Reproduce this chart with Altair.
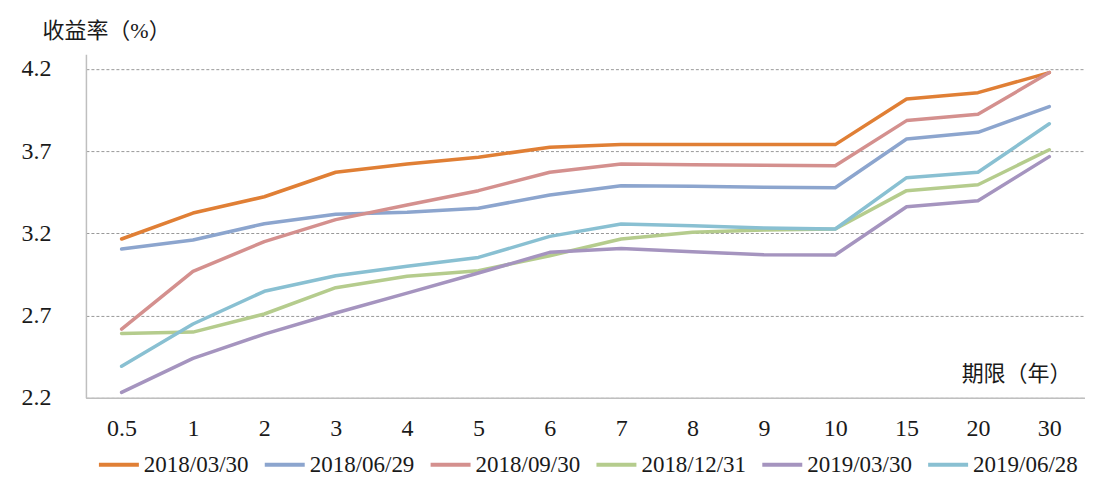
import altair as alt
import pandas as pd

terms = ["0.5", "1", "2", "3", "4", "5", "6", "7", "8", "9", "10", "15", "20", "30"]
series_names = ["2018/03/30", "2018/06/29", "2018/09/30", "2018/12/31", "2019/03/30", "2019/06/28"]
colors = ["#E07F35", "#8CA5CE", "#D4908E", "#B5CC8D", "#A594BF", "#89C0D2"]

s_2018_03_30 = [3.166, 3.324, 3.423, 3.572, 3.622, 3.663, 3.724, 3.740, 3.740, 3.740, 3.740, 4.018, 4.056, 4.178]
s_2018_06_29 = [3.105, 3.160, 3.259, 3.316, 3.328, 3.353, 3.434, 3.490, 3.487, 3.480, 3.478, 3.774, 3.815, 3.971]
s_2018_09_30 = [2.618, 2.969, 3.150, 3.284, 3.373, 3.460, 3.572, 3.622, 3.618, 3.614, 3.612, 3.886, 3.924, 4.178]
s_2018_12_31 = [2.592, 2.600, 2.710, 2.870, 2.939, 2.973, 3.064, 3.166, 3.207, 3.221, 3.227, 3.460, 3.496, 3.709]
s_2019_03_30 = [2.233, 2.440, 2.588, 2.716, 2.837, 2.959, 3.085, 3.109, 3.089, 3.070, 3.069, 3.362, 3.399, 3.667]
s_2019_06_28 = [2.392, 2.649, 2.848, 2.943, 3.000, 3.054, 3.182, 3.257, 3.247, 3.233, 3.227, 3.539, 3.572, 3.867]

y_ticks = [2.2, 2.7, 3.2, 3.7, 4.2]

all_series = [s_2018_03_30, s_2018_06_29, s_2018_09_30, s_2018_12_31, s_2019_03_30, s_2019_06_28]
rows = []
for name, vals in zip(series_names, all_series):
    for t, v in zip(terms, vals):
        rows.append({"term": t, "rate": v, "date": name})
df = pd.DataFrame(rows)

FONT = "Liberation Serif, Noto Sans CJK SC"
TXT = "#1a1a1a"

chart = alt.Chart(df).mark_line(strokeWidth=3.5, strokeCap="round", strokeJoin="round").encode(
    x=alt.X("term:N", sort=terms,
            scale=alt.Scale(type="point", padding=0.5),
            axis=alt.Axis(title="期限（年）", labelAngle=0, ticks=False,
                          domainColor="#BFBFBF", domainWidth=1.5,
                          labelFont=FONT, labelFontSize=24, labelColor=TXT, labelPadding=19,
                          titleFont=FONT, titleFontSize=22, titleFontWeight="normal", titleColor=TXT,
                          titleAnchor="end", titleAlign="right", titleBaseline="middle",
                          titleX=986, titleY=-24)),
    y=alt.Y("rate:Q",
            scale=alt.Scale(domain=[2.2, 4.29], nice=False, zero=False),
            axis=alt.Axis(title="收益率（%）", values=y_ticks, format=".1f", ticks=False,
                          domainColor="#BFBFBF", domainWidth=1.5,
                          grid=True, gridColor="#999999", gridDash=[3, 2], gridWidth=1,
                          labelFont=FONT, labelFontSize=24, labelColor=TXT, labelPadding=35,
                          titleFont=FONT, titleFontSize=22, titleFontWeight="normal", titleColor=TXT,
                          titleAngle=0, titleAlign="left", titleBaseline="middle",
                          titleX=-44, titleY=-24)),
    color=alt.Color("date:N", sort=series_names,
                    scale=alt.Scale(domain=series_names, range=colors),
                    legend=alt.Legend(title=None, orient="none", direction="horizontal",
                                      legendX=11, legendY=389,
                                      symbolType="stroke", symbolSize=1600, symbolStrokeWidth=4,
                                      labelFont=FONT, labelFontSize=23, labelColor=TXT,
                                      labelOffset=3, columnPadding=8, labelLimit=300)),
    order=alt.Order("term_order:Q"),
).transform_calculate(
    term_order="indexof(" + str(terms) + ", datum.term)"
).properties(
    width=1000, height=344,
    autosize="none",
    padding={"left": 78, "top": 46, "right": 0, "bottom": 81},
).configure_view(stroke="transparent")

chart.save("out.html", embed_options={"renderer": "svg", "actions": False})
